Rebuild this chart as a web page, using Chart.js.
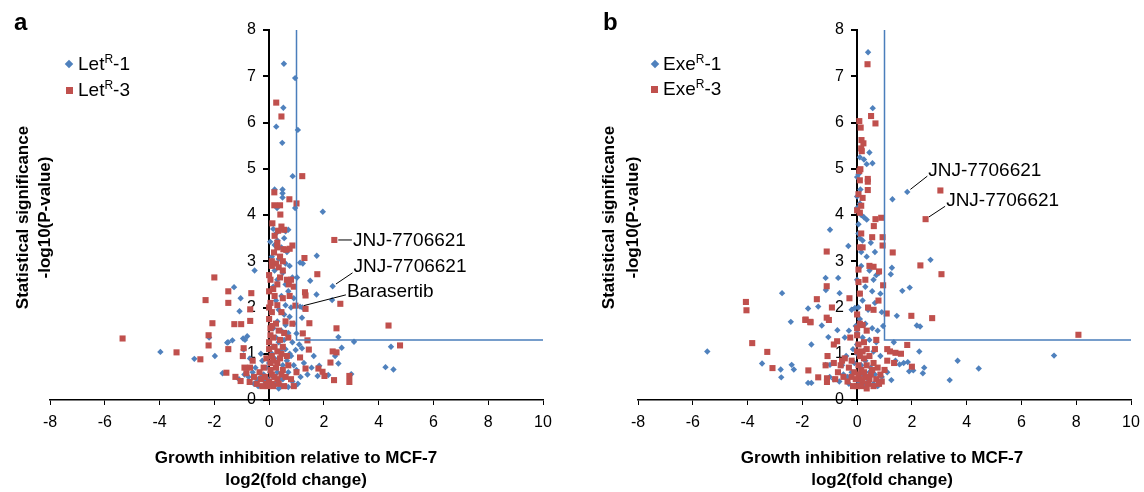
<!DOCTYPE html>
<html>
<head>
<meta charset="utf-8">
<script src="https://cdn.jsdelivr.net/npm/chart.js@4.4.1/dist/chart.umd.min.js"></script>
<style>
  body { margin: 0; background: #fff; font-family: "Liberation Sans", Arial, sans-serif; }
  #wrap { position: relative; width: 1144px; height: 492px; overflow: hidden; }
  canvas { position: absolute; top: 0; }
  .txt { position: absolute; white-space: nowrap; color: #000; line-height: 1; }
  .letter { font-weight: bold; font-size: 24px; }
  .leg { font-size: 19px; }
  .leg sup { font-size: 12px; position: relative; top: -7px; vertical-align: baseline; }
  .xt { font-weight: bold; font-size: 17px; width: 400px; text-align: center; }
  .yt { font-weight: bold; font-size: 17px; width: 300px; text-align: center; transform: rotate(-90deg); }
  .mk { position: absolute; }
</style>
</head>
<body>
<div id="wrap">
  <canvas id="chartA" width="572" height="492" style="left:0"></canvas>
  <canvas id="chartB" width="572" height="492" style="left:572px"></canvas>

  <div class="txt letter" style="left:14px;top:10px">a</div>
  <div class="txt letter" style="left:603px;top:10px">b</div>

  <div class="mk" style="left:66px;top:61px;width:6px;height:6px;background:#4f81bd;transform:rotate(45deg)"></div>
  <div class="txt leg" style="left:78px;top:54px">Let<sup>R</sup>-1</div>
  <div class="mk" style="left:66px;top:87px;width:7px;height:7px;background:#c0504d"></div>
  <div class="txt leg" style="left:78px;top:80px">Let<sup>R</sup>-3</div>

  <div class="mk" style="left:652px;top:61px;width:6px;height:6px;background:#4f81bd;transform:rotate(45deg)"></div>
  <div class="txt leg" style="left:663px;top:54px">Exe<sup>R</sup>-1</div>
  <div class="mk" style="left:651px;top:86px;width:7px;height:7px;background:#c0504d"></div>
  <div class="txt leg" style="left:663px;top:79px">Exe<sup>R</sup>-3</div>

  <div class="txt xt" style="left:96px;top:449px">Growth inhibition relative to MCF-7</div>
  <div class="txt xt" style="left:96px;top:471px">log2(fold change)</div>
  <div class="txt xt" style="left:682px;top:449px">Growth inhibition relative to MCF-7</div>
  <div class="txt xt" style="left:682px;top:471px">log2(fold change)</div>

  <div class="txt yt" style="left:-128px;top:209px">Statistical significance</div>
  <div class="txt yt" style="left:-106px;top:209px">-log10(P-value)</div>
  <div class="txt yt" style="left:458px;top:209px">Statistical significance</div>
  <div class="txt yt" style="left:482px;top:209px">-log10(P-value)</div>
</div>

<script>
// x ticks / y ticks
const xTicks = [-8, -6, -4, -2, 0, 2, 4, 6, 8, 10];
const yTicks = [0, 1, 2, 3, 4, 5, 6, 7, 8];

// significance cut-off (log2 fold change > 1, p < 0.05)
const cutX = [1, 1, 10];
const cutY = [8, 1.3, 1.3];

// panel a - Let(R)-1 [log2 fold change, -log10 p]
const letR1 = [
  [0.54,7.27],[0.95,6.96],[0.52,6.32],[0.26,5.91],[1.05,5.84],[0.48,5.56],[0.86,4.84],[0.20,4.55],
  [0.49,4.55],[0.49,4.47],[0.49,4.38],[0.29,4.15],[0.95,4.15],[1.96,4.07],
  [0.15,3.7],[0.25,3.6],[0.4,3.68],[0.6,3.65],[0.7,3.68],[0.55,3.5],[0.3,3.45],[0.2,3.35],[0.04,3.42],
  [0.45,3.3],[0.65,3.2],[0.1,3.1],[0.35,3.05],[0.6,2.95],[0.75,2.9],[1.13,2.97],[0.2,2.8],[0.5,2.75],
  [0.85,2.65],[1.02,2.65],[0.3,2.6],[0.6,2.5],[0.15,2.45],[0.7,2.35],[0.45,2.25],[0.9,2.2],[0.25,2.15],
  [0.6,2.05],[0.8,2.0],[1.13,2.02],[1.22,2.0],[0.35,1.95],[0.1,1.9],[0.55,1.85],[0.75,1.8],[1.2,1.78],
  [0.3,1.7],[0.6,1.62],[0.9,1.65],[0.15,1.55],[0.45,1.5],[0.7,1.45],[1.0,1.44],[0.25,1.35],[0.55,1.3],
  [0.85,1.25],[1.1,1.2],[1.5,2.58],[1.74,3.12],[1.23,2.95],[1.73,2.28],[2.32,2.46],[2.30,2.16],
  [2.53,1.36],[3.1,1.26],[4.45,1.15],[4.25,0.71],[4.54,0.66],[3.0,0.56],[2.41,0.95],[2.65,1.13],
  [2.53,0.79],[2.16,0.54],[1.83,0.74],[1.77,0.52],[1.63,0.95],[1.2,1.12],[0.97,1.08],[1.27,0.8],
  [1.0,0.65],[1.15,0.5],[0.85,0.4],[0.6,0.3],[0.7,0.28],[0.4,0.45],[0.3,0.6],[0.5,0.75],[0.65,0.85],
  [0.2,0.9],[0.8,0.95],[0.45,1.05],[0.1,1.0],[0.0,0.8],[-0.1,0.7],[-0.2,0.55],[-0.3,0.5],[-0.45,0.45],
  [-0.5,0.7],[-0.25,0.85],[-0.6,0.6],[-0.75,0.5],[-0.9,0.55],[-0.55,0.35],[-0.15,0.4],[0.05,0.35],
  [0.25,0.35],[1.4,0.55],[1.55,0.7],[-1.7,0.58],[-1.98,0.95],[-2.19,1.35],[-1.53,1.24],[-1.34,1.29],
  [-0.95,1.33],[-0.80,1.38],[-0.93,1.09],[-1.28,2.44],[-1.04,2.2],[-1.08,1.92],[-0.53,2.8],[-3.97,1.04],
  [-2.73,0.89],[-0.3,1.0],[-1.1,0.45],[-0.7,0.9],[-0.88,1.3],[-1.5,1.25],
  [0.15,0.5],[0.35,0.25],[0.5,0.45],[0.05,0.6],[-0.05,0.45],[0.7,0.6],[0.9,0.75],[0.6,1.1],[0.35,1.25],
  [0.15,1.15],[-0.4,0.3],[0.45,0.3],[0.95,0.3],[1.05,0.35],[0.75,1.0]
];

// panel a - Let(R)-3
const letR3 = [
  [0.26,6.43],[0.45,6.13],[1.21,4.84],[0.19,4.49],[0.74,4.34],[1.0,4.25],[0.19,4.21],[0.40,4.21],
  [0.41,4.01],[0.12,3.82],[0.33,3.66],[0.45,3.75],[0.55,3.68],[0.2,3.55],[0.3,3.4],[0.85,3.34],
  [0.52,3.26],[0.62,3.25],[0.18,3.19],[0.4,3.1],[0.25,2.95],[0.35,2.87],[0.1,2.9],[0.5,2.8],[1.29,3.07],
  [0.75,3.27],[0.4,2.65],[0.05,2.6],[0.3,2.5],[0.65,2.6],[0.8,2.6],[0.72,2.5],[0.9,2.45],[0.0,2.35],
  [0.2,2.25],[0.5,2.2],[0.75,2.25],[0.05,2.1],[0.3,2.05],[0.96,2.04],[1.31,2.33],[1.33,2.26],[1.33,1.97],
  [0.1,1.9],[0.45,1.9],[0.0,1.75],[0.25,1.65],[0.6,1.7],[0.85,1.65],[0.05,1.55],[0.35,1.5],[0.55,1.45],
  [0.15,1.35],[0.4,1.3],[0.7,1.35],[0.0,1.25],[0.2,1.15],[0.5,1.15],[0.3,1.05],[0.1,0.95],[0.4,0.9],
  [0.65,0.95],[0.05,0.8],[0.25,0.7],[0.5,0.65],[0.1,0.55],[0.3,0.45],[0.0,0.4],[0.15,0.3],[0.35,0.35],
  [-0.05,0.3],[0.6,0.5],[0.8,0.45],[0.55,0.3],[1.0,0.6],[1.13,0.92],[1.33,0.68],[1.45,1.09],
  [1.47,1.66],[1.23,1.44],[1.40,1.29],[1.76,2.72],[2.38,3.46],[2.6,2.08],[2.46,1.55],[2.32,1.05],
  [2.46,1.03],[2.24,0.81],[2.02,0.52],[1.95,0.61],[1.8,0.68],[2.37,0.43],[2.93,0.52],[2.93,0.39],
  [4.36,1.61],[4.78,1.18],[-5.35,1.33],[-3.38,1.03],[-2.51,0.88],[-2.0,2.65],[-2.32,2.16],[-2.07,1.66],
  [-2.21,1.40],[-2.21,1.18],[-1.56,0.59],[-1.49,2.35],[-1.49,2.10],[-0.69,1.96],[-0.65,2.31],
  [-1.27,1.64],[-1.02,1.64],[-0.69,1.71],[-1.49,1.10],[-0.93,1.12],[-0.96,0.95],[-1.23,0.50],
  [-1.04,0.41],[-0.71,0.39],[-0.83,0.58],[-0.70,0.70],[-0.45,0.35],[-0.3,0.45],[-0.15,0.5],[-0.2,0.7],
  [-0.1,0.9],[-0.35,0.6],[-0.55,0.5],[-0.9,0.7],[-0.6,0.85],
  [0.05,0.65],[0.15,0.85],[0.0,1.1],[0.2,0.5],[0.1,0.35],[0.45,0.55],[-0.1,0.35],[-0.25,0.3],[0.7,0.75],
  [0.9,0.3],[0.05,1.4],[0.1,1.6],[0.0,2.0],[0.15,2.4],[0.0,2.7],[0.1,3.0],[0.3,3.3],[0.5,3.0],[0.3,0.8],
  [0.45,1.0]
];

// panel b - Exe(R)-1
const exeR1 = [
  [0.40,7.52],[0.57,6.31],[0.45,5.35],[0.56,5.12],[0.35,5.1],[0.25,5.2],[0.1,5.25],[0.05,4.88],
  [0.0,4.82],[0.12,4.55],[0.1,4.25],[0.0,4.15],[0.15,4.0],[0.25,3.95],[0.35,3.9],[1.29,4.34],[1.83,4.5],
  [-0.99,3.68],[-0.32,3.33],[0.05,3.6],[0.1,3.5],[0.2,3.45],[0.5,3.4],[0.65,3.2],[0.35,3.1],[0.15,2.9],
  [0.45,2.8],[0.7,2.7],[0.8,2.75],[0.6,2.6],[0.05,2.55],[0.3,2.45],[0.55,2.35],[0.85,2.3],[0.2,2.15],
  [0.65,2.1],[0.4,1.95],[0.9,1.9],[0.0,1.85],[0.1,1.75],[0.3,1.65],[0.55,1.55],[0.75,1.5],[0.95,1.6],
  [0.0,1.45],[0.2,1.35],[0.45,1.3],[0.7,1.25],[0.0,1.2],[0.3,1.1],[0.6,1.05],[0.85,0.95],[1.27,2.86],
  [1.23,2.72],[2.68,3.03],[1.92,2.43],[1.65,2.36],[1.45,1.82],[2.18,1.61],[2.30,1.59],[1.34,1.25],
  [2.27,1.05],[3.67,0.85],[4.44,0.68],[7.19,0.96],[3.38,0.43],[2.45,0.7],[2.4,0.58],[2.05,0.64],
  [1.85,0.82],[1.7,0.8],[1.55,0.77],[1.4,0.85],[1.25,0.43],[1.9,0.62],[1.1,0.6],[0.9,0.5],[0.75,0.3],
  [0.6,0.35],[0.4,0.45],[0.2,0.55],[0.5,0.7],[0.3,0.85],[0.1,0.95],[-0.1,0.8],[-0.2,0.6],[-0.35,0.5],
  [-0.5,0.55],[-0.65,0.4],[-0.85,0.45],[-1.0,0.5],[-5.47,1.05],[-3.47,0.79],[-2.79,0.66],[-2.77,0.49],
  [-2.39,0.76],[-2.31,0.66],[-2.74,2.31],[-2.42,1.69],[-1.79,1.98],[-1.42,2.02],[-1.15,2.64],
  [-0.69,2.64],[-0.64,2.31],[-1.67,1.2],[-1.29,1.61],[-1.05,1.36],[-0.72,1.51],[-0.45,1.35],[-0.3,1.5],
  [-0.2,1.95],[-0.08,1.99],[-1.79,0.37],[-1.67,0.37],[-0.15,1.1],[-0.4,0.95],[-1.15,0.76],[-0.99,0.76],
  [-1.14,2.38],
  [0.05,0.4],[0.25,0.3],[0.45,0.6],[0.65,0.55],[0.15,0.75],[0.0,1.0],[-0.05,1.6],[0.05,2.0],[0.1,2.3],
  [0.0,2.6],[0.15,3.2],[0.05,3.8],[0.0,4.4],[0.8,0.35],[-0.3,0.35],[-0.55,0.75]
];

// panel b - Exe(R)-3
const exeR3 = [
  [0.38,7.26],[0.51,6.14],[0.67,5.98],[0.08,6.03],[0.13,5.89],[0.16,5.62],[0.23,5.55],[0.15,5.44],
  [0.17,5.38],[0.12,4.99],[0.08,4.95],[0.1,4.75],[0.39,4.78],[0.39,4.72],[0.39,4.54],[0.2,4.37],
  [0.05,4.45],[0.15,4.2],[0.0,4.1],[0.1,4.05],[0.67,3.91],[0.88,3.94],[0.61,3.76],[0.55,3.52],
  [0.93,3.52],[0.93,3.34],[0.1,3.3],[0.2,3.3],[1.3,3.19],[3.04,4.53],[2.5,3.91],[2.31,2.91],[3.08,2.72],
  [0.45,2.9],[0.6,2.88],[0.05,2.82],[0.8,2.78],[0.3,2.6],[0.95,2.48],[0.1,2.3],[0.78,2.15],[-0.28,2.2],
  [-1.47,2.18],[-1.11,3.21],[-1.11,2.46],[-0.92,2.0],[-1.88,1.74],[-1.7,1.68],[-1.11,1.78],[-1.03,1.73],
  [1.08,1.87],[1.98,1.82],[2.74,1.77],[8.08,1.41],[1.83,1.19],[0.6,1.95],[0.4,2.0],[0.2,1.62],[0.35,1.5],
  [0.7,1.3],[0.25,1.25],[0.0,1.55],[0.0,1.4],[0.05,1.2],[0.0,1.05],[0.1,0.95],[0.25,0.9],[0.45,0.95],
  [0.6,0.8],[0.35,0.75],[0.15,0.65],[0.05,0.55],[0.3,0.5],[0.5,0.55],[0.7,0.45],[0.2,0.4],[0.4,0.35],
  [0.0,0.3],[0.6,0.3],[0.85,0.55],[0.9,0.4],[1.1,1.1],[1.2,1.05],[1.4,1.02],[1.6,1.0],[1.35,0.8],
  [1.1,0.85],[1.0,0.65],[2.0,0.72],[-0.1,0.6],[-0.2,0.85],[-0.3,0.7],[-0.45,0.9],[-0.5,0.5],[-0.6,0.75],
  [-0.7,0.6],[-0.85,0.8],[-0.35,0.4],[-0.15,0.3],[-4.06,2.12],[-4.04,1.94],[-3.83,1.23],[-3.28,1.04],
  [-3.09,0.69],[-1.89,1.73],[-1.71,1.69],[-1.78,0.64],[-1.42,0.49],[-1.1,0.39],[-1.1,0.47],[-1.08,0.95],
  [-1.15,0.75],[-0.85,1.2],[-0.55,0.85],[-0.25,1.35],[-0.8,0.45],[-0.73,1.27],
  [0.1,0.45],[0.25,0.6],[0.45,0.45],[0.15,0.3],[0.35,0.25],[0.55,0.65],[0.75,0.7],[0.05,0.75],[0.2,1.05],
  [0.35,1.1],[-0.05,0.45],[-0.2,0.5],[0.8,0.35],[0.65,1.1],[0.1,1.65],[0.0,1.85],[0.05,2.55],[0.15,3.6]
];

// labelled compounds: anchor point, text position (data units), leader start offset in px
const notesA = [
  { text: 'JNJ-7706621', at: [2.38, 3.46], pos: [3.06, 3.46], dy: 0 },
  { text: 'JNJ-7706621', at: [2.32, 2.46], pos: [3.08, 2.90], dy: 7 },
  { text: 'Barasertib', at: [1.13, 2.02], pos: [2.84, 2.36], dy: 4 }
];
const notesB = [
  { text: 'JNJ-7706621', at: [1.83, 4.50], pos: [2.60, 4.97], dy: 6 },
  { text: 'JNJ-7706621', at: [2.50, 3.91], pos: [3.25, 4.34], dy: 7 }
];

const BLUE = '#4f81bd';
const RED = '#c0504d';
Chart.defaults.font.family = '"Liberation Sans", Arial, sans-serif';
Chart.defaults.color = '#000';

function toPoints(arr) {
  return arr.map(p => ({ x: p[0], y: p[1] }));
}

// draws the compound labels with their leader lines
const notePlugin = {
  id: 'notes',
  afterDatasetsDraw(chart, args, opts) {
    const ctx = chart.ctx;
    const xs = chart.scales.x, ys = chart.scales.y;
    ctx.save();
    ctx.font = '19px "Liberation Sans", Arial, sans-serif';
    ctx.fillStyle = '#000';
    ctx.strokeStyle = '#000';
    ctx.lineWidth = 1;
    ctx.textBaseline = 'middle';
    opts.items.forEach(n => {
      const px = xs.getPixelForValue(n.at[0]), py = ys.getPixelForValue(n.at[1]);
      const tx = xs.getPixelForValue(n.pos[0]), ty = ys.getPixelForValue(n.pos[1]);
      const sx = tx - 1, sy = ty + n.dy;
      const d = Math.hypot(sx - px, sy - py);
      const ex = px + (sx - px) / d * 4, ey = py + (sy - py) / d * 4;
      ctx.beginPath();
      ctx.moveTo(sx, sy);
      ctx.lineTo(ex, ey);
      ctx.stroke();
      ctx.fillText(n.text, tx, ty + 1);
    });
    ctx.restore();
  }
};

function makeChart(id, blue, red, notes, padLeft, padRight) {
  return new Chart(document.getElementById(id), {
    type: 'scatter',
    data: {
      datasets: [
        {
          data: cutX.map((x, i) => ({ x: x, y: cutY[i] })),
          showLine: true,
          borderColor: '#4a7ebb',
          borderWidth: 1.5,
          pointRadius: 0,
          order: 0
        },
        {
          data: toPoints(red),
          pointStyle: 'rect',
          pointRadius: 4.3,
          backgroundColor: RED,
          borderWidth: 0,
          order: 1
        },
        {
          data: toPoints(blue),
          pointStyle: 'rectRot',
          pointRadius: 3.2,
          backgroundColor: BLUE,
          borderWidth: 0,
          order: 2
        }
      ]
    },
    options: {
      responsive: false,
      animation: false,
      layout: { padding: { left: padLeft, right: padRight, top: 30, bottom: 0 } },
      scales: {
        x: {
          type: 'linear',
          position: 'bottom',
          min: -8,
          max: 10,
          afterBuildTicks: s => { s.ticks = xTicks.map(v => ({ value: v })); },
          // fixed height, and let the layout padding alone set the plot edges
          afterFit: s => { s.height = 92; s.paddingLeft = 0; s.paddingRight = 0; },
          grid: { drawOnChartArea: false, drawTicks: true, tickLength: 5, color: '#000', lineWidth: 1 },
          border: { color: '#000', width: 1.5 },
          ticks: { font: { size: 16 }, padding: 8, color: '#000' }
        },
        y: {
          type: 'linear',
          position: { x: 0 },
          min: 0,
          max: 8,
          afterBuildTicks: s => { s.ticks = yTicks.map(v => ({ value: v })); },
          grid: { drawOnChartArea: false, drawTicks: true, tickLength: 5, color: '#000', lineWidth: 2 },
          border: { color: '#000', width: 2 },
          // labels of an axis placed at x = 0 sit right on the line, so pad them off it
          ticks: { font: { size: 16 }, color: '#000', callback: v => v + '   ' }
        }
      },
      plugins: {
        legend: { display: false },
        tooltip: { enabled: false },
        notes: { items: notes }
      }
    },
    plugins: [notePlugin]
  });
}

makeChart('chartA', letR1, letR3, notesA, 50, 29);
makeChart('chartB', exeR1, exeR3, notesB, 66, 13);
</script>
</body>
</html>
